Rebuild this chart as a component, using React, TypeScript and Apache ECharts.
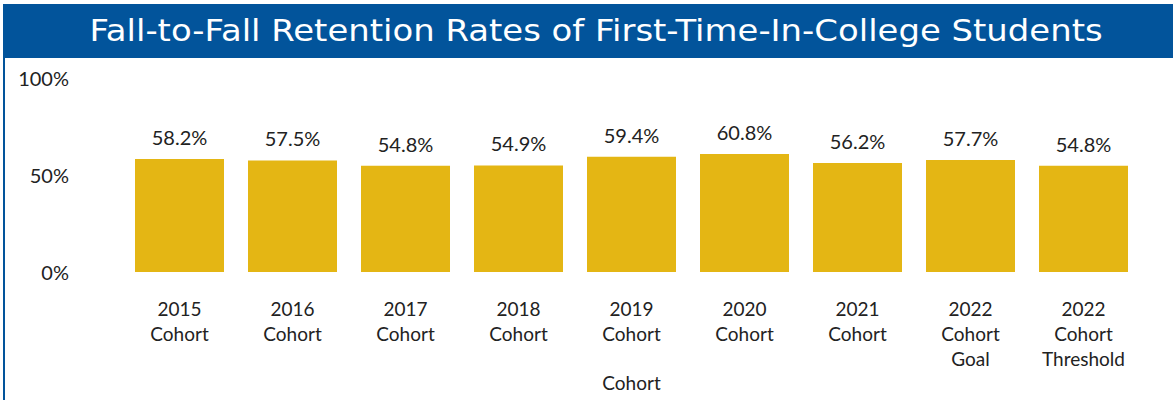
import React, { useEffect, useRef } from "react";
import * as echarts from "echarts";

const categories = [
  "2015\nCohort",
  "2016\nCohort",
  "2017\nCohort",
  "2018\nCohort",
  "2019\nCohort",
  "2020\nCohort",
  "2021\nCohort",
  "2022\nCohort\nGoal",
  "2022\nCohort\nThreshold",
];
const retention = [58.2, 57.5, 54.8, 54.9, 59.4, 60.8, 56.2, 57.7, 54.8];
const yTicks = [0, 50, 100];
const titleText = "Fall-to-Fall Retention Rates of First-Time-In-College Students";

export default function App() {
  const ref = useRef<HTMLDivElement>(null);
  useEffect(() => {
    document.body.style.margin = "0";
    const chart = echarts.init(ref.current!, null, { renderer: "svg" });
    chart.setOption({
      animation: false,
      backgroundColor: "#ffffff",
      graphic: [
        {
          type: "rect",
          z: -1,
          shape: { x: 3, y: 4, width: 1170, height: 54 },
          style: { fill: "#02549B" },
        },
        {
          type: "rect",
          z: -1,
          shape: { x: 3, y: 58, width: 2, height: 342 },
          style: { fill: "#02549B" },
        },
        {
          type: "text",
          x: 596,
          y: 31,
          scaleX: 1.13,
          style: {
            text: titleText,
            fill: "#ffffff",
            fontSize: 30,
            fontFamily: "DejaVu Sans",
            textAlign: "center",
            textVerticalAlign: "middle",
          },
        },
      ],
      grid: { left: 123, right: 33, top: 78, bottom: 128, containLabel: false },
      xAxis: {
        type: "category",
        data: categories,
        name: "Cohort",
        nameLocation: "middle",
        nameGap: 101,
        nameTextStyle: { color: "#222", fontSize: 19, fontFamily: "Lato" },
        axisLine: { show: false },
        axisTick: { show: false },
        axisLabel: {
          color: "#222",
          fontSize: 19,
          fontFamily: "Lato",
          lineHeight: 25,
          margin: 24,
          interval: 0,
        },
      },
      yAxis: {
        type: "value",
        min: yTicks[0],
        max: yTicks[yTicks.length - 1],
        interval: yTicks[1] - yTicks[0],
        splitLine: { show: false },
        axisLine: { show: false },
        axisTick: { show: false },
        axisLabel: {
          formatter: "{value}%",
          color: "#222",
          fontSize: 20,
          fontFamily: "Lato",
          margin: 54,
        },
      },
      series: [
        {
          type: "bar",
          data: retention,
          barWidth: 89,
          itemStyle: { color: "#E4B614" },
          label: {
            show: true,
            position: "top",
            distance: 12,
            color: "#222",
            fontSize: 20,
            fontFamily: "Lato",
            formatter: (p: any) => p.value.toFixed(1) + "%",
          },
        },
      ],
    });
    return () => chart.dispose();
  }, []);
  return (
    <div
      ref={ref}
      style={{ position: "absolute", left: 0, top: 0, width: 1173, height: 400 }}
    />
  );
}
